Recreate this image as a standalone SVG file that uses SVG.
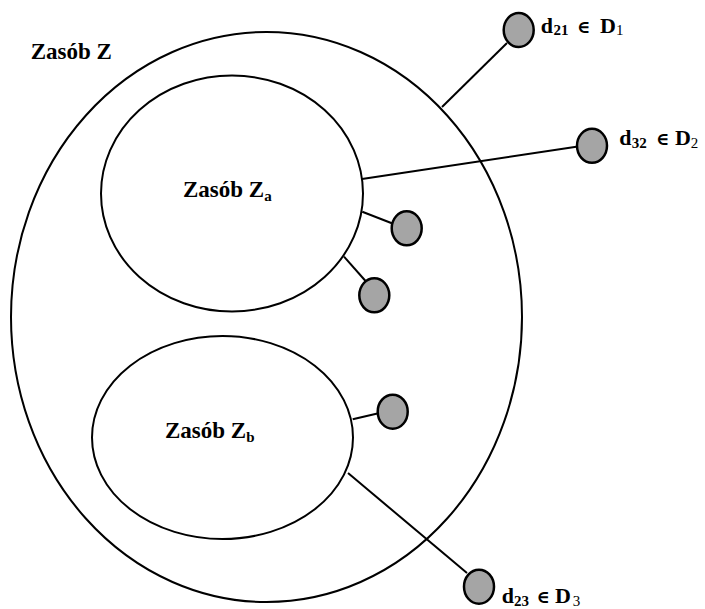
<svg xmlns="http://www.w3.org/2000/svg" width="705" height="609" viewBox="0 0 705 609">
  <style>
    .set { fill: none; stroke: #000; stroke-width: 2; }
    .elem { fill: #a5a5a5; stroke: #000; stroke-width: 2.5; }
    .link { stroke: #000; stroke-width: 2; fill: none; }
    text { font-family: 'Liberation Serif', 'DejaVu Serif', serif; font-weight: bold; fill: #000; }
    .lbl { font-size: 23px; }
    .dl { font-size: 22px; }
    .sub { font-size: 15px; }
    .subn { font-size: 15px; font-weight: normal; }
    .in { font-family: 'DejaVu Serif', serif; font-size: 18px; font-weight: bold; }
  </style>
  <rect width="705" height="609" fill="#fff"/>

  <!-- connectors -->
  <g id="connectors">
    <line class="link" x1="442" y1="107" x2="507" y2="43"/>
    <line class="link" x1="362" y1="179" x2="578" y2="146.5"/>
    <line class="link" x1="362.3" y1="211.7" x2="392.5" y2="223.5"/>
    <line class="link" x1="344" y1="256.7" x2="366" y2="281.5"/>
    <line class="link" x1="352.7" y1="419.3" x2="378.5" y2="413.3"/>
    <line class="link" x1="348" y1="473" x2="467" y2="573"/>
  </g>

  <!-- outer set Z -->
  <g id="zasob-z">
    <ellipse class="set" cx="266.5" cy="317" rx="255.5" ry="285"/>
    <text class="lbl" x="30.7" y="59.3">Zasób Z</text>
  </g>

  <!-- subset Za -->
  <g id="zasob-za">
    <ellipse class="set" cx="232" cy="193.5" rx="131" ry="118"/>
    <text class="lbl" x="183" y="197">Zasób Z<tspan class="sub" dy="4">a</tspan></text>
  </g>

  <!-- subset Zb -->
  <g id="zasob-zb">
    <ellipse class="set" cx="222.5" cy="437.5" rx="130.5" ry="101.5"/>
    <text class="lbl" x="165" y="438">Zasób Z<tspan class="sub" dy="4">b</tspan></text>
  </g>

  <!-- elements -->
  <g id="d21">
    <ellipse class="elem" cx="518.7" cy="30" rx="15" ry="17"/>
    <text class="dl" y="33.3"><tspan x="540.7">d</tspan><tspan class="sub" x="553.5" dy="2">21</tspan><tspan class="in" x="577" dy="-2">∈</tspan><tspan x="600">D</tspan><tspan class="subn" x="616" dy="2">1</tspan></text>
  </g>

  <g id="d32">
    <ellipse class="elem" cx="592" cy="145.8" rx="15" ry="17"/>
    <text class="dl" y="145"><tspan x="619.3">d</tspan><tspan class="sub" x="631.7" dy="2.5">32</tspan><tspan class="in" x="656" dy="-2.5">∈</tspan><tspan x="675">D</tspan><tspan class="subn" x="690.7" dy="2.5">2</tspan></text>
  </g>

  <g id="za-e1">
    <ellipse class="elem" cx="406.7" cy="228.3" rx="15" ry="17"/>
  </g>

  <g id="za-e2">
    <ellipse class="elem" cx="374.3" cy="295.3" rx="15" ry="17"/>
  </g>

  <g id="zb-e1">
    <ellipse class="elem" cx="392.7" cy="411.7" rx="15" ry="17"/>
  </g>

  <g id="d23">
    <ellipse class="elem" cx="479" cy="586.7" rx="15" ry="17"/>
    <text class="dl" y="603"><tspan x="501.7">d</tspan><tspan class="sub" x="514" dy="2.5">23</tspan><tspan class="in" x="536.5" dy="-2.5">∈</tspan><tspan x="555">D</tspan><tspan class="subn" x="572.7" dy="2.5">3</tspan></text>
  </g>
</svg>
